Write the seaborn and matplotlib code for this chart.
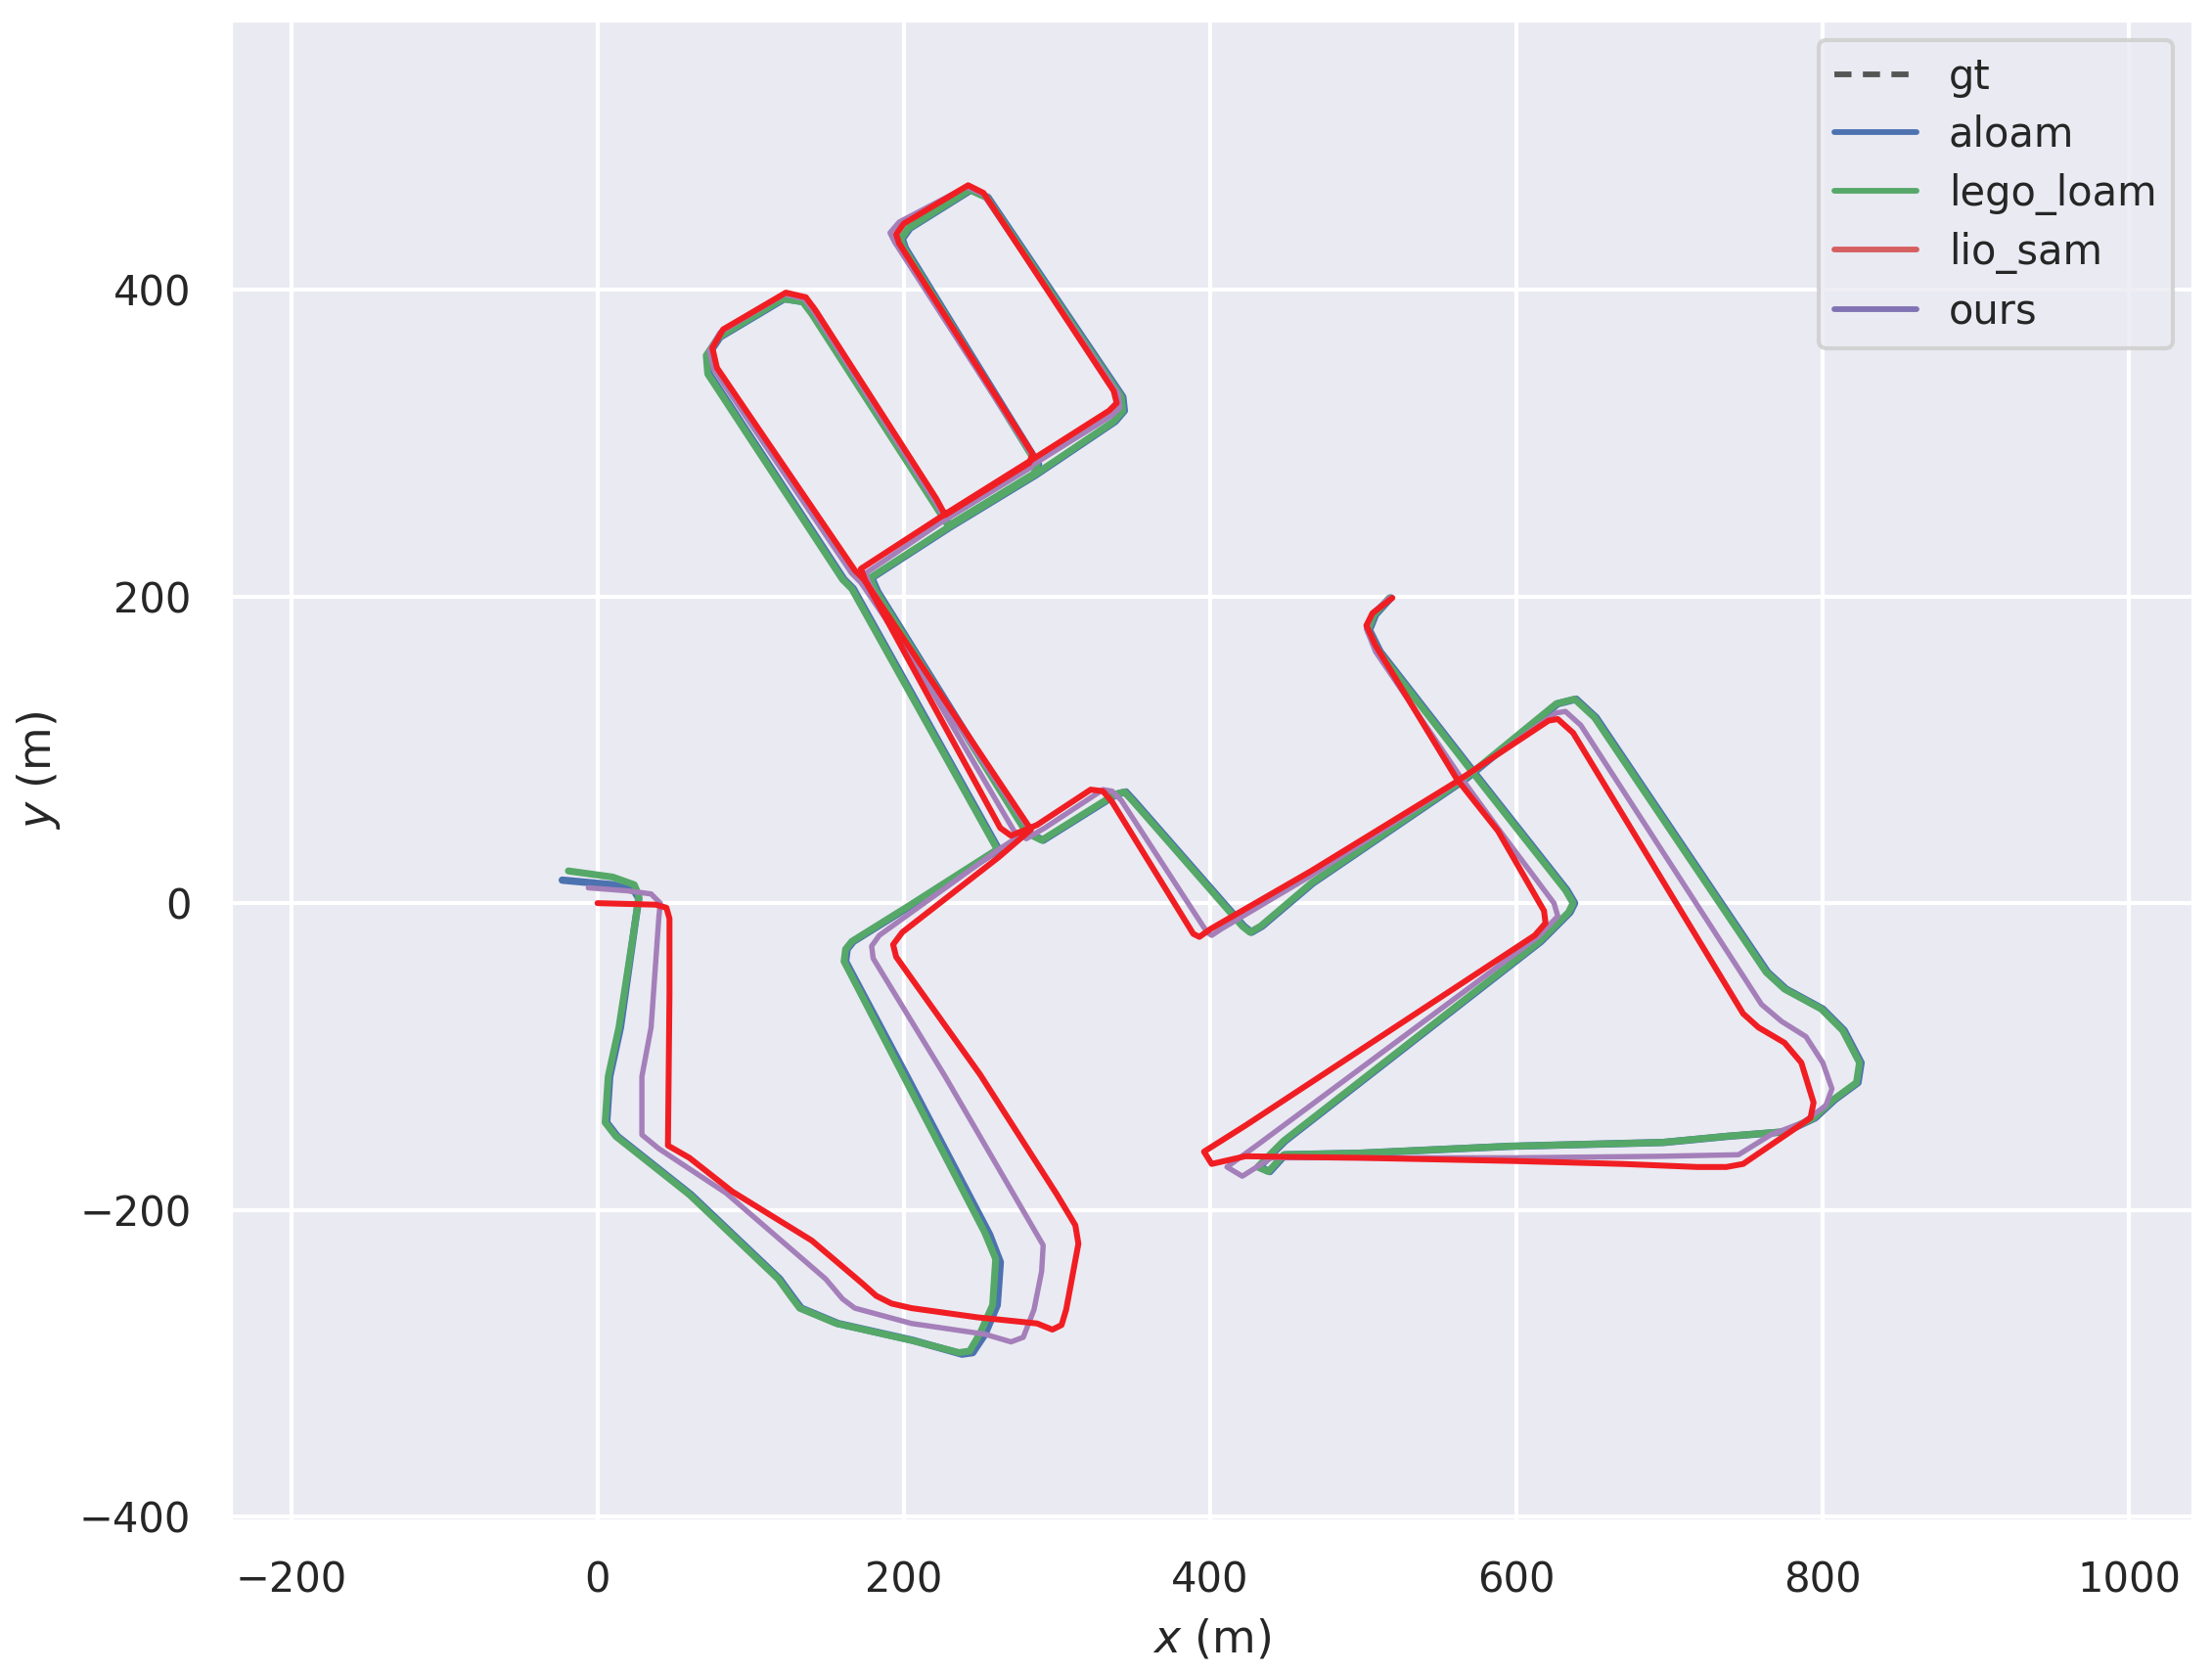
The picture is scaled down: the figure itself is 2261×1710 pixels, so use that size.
import matplotlib
matplotlib.use("Agg")
import matplotlib.pyplot as plt
import seaborn as sns
import pandas as pd
from matplotlib.lines import Line2D

# ---------------- data (metres) ----------------
methods = ["gt", "aloam", "lego_loam", "lio_sam", "ours"]

lio_sam_x = [0, 38, 45, 47, 47, 46, 60, 88, 140, 173, 182, 192, 205, 248, 287, 297, 303, 306, 314, 312, 300, 250, 195, 193, 199, 262, 283,
             174, 168, 78, 75, 82, 123, 136, 142, 221, 227, 282, 284, 197, 195, 200, 242, 252, 337, 339, 334, 282, 226, 172,
             175, 263, 270, 287, 322, 330, 336, 389, 393, 400, 466, 559, 621, 627, 637, 748, 758, 775, 786, 794, 792, 773, 748, 737,
             718, 669, 595, 497, 423, 401, 396, 423, 612, 619, 618, 588, 561, 508, 502, 506, 519]
lio_sam_y = [0, -1, -3, -10, -60, -158, -166, -188, -220, -248, -256, -261, -264, -270, -274, -278, -275, -265, -222, -210, -190, -112, -35, -27, -19, 30, 48,
             211, 217, 349, 362, 374, 398, 395, 387, 264, 253, 287, 293, 430, 436, 443, 468, 463, 334, 326, 321, 288, 253, 218,
             210, 49, 44, 51, 74, 73, 66, -20, -22, -17, 21, 78, 119, 120, 111, -72, -81, -91, -104, -130, -140, -153, -170, -172,
             -172, -170, -168, -166, -165, -170, -162, -145, -21, -13, -5, 47, 81, 168, 181, 189, 199]

gt_x = list(lio_sam_x)
gt_y = list(lio_sam_y)

lego_loam_x = [-19, 10, 24, 27, 25, 14, 7, 5, 12, 60, 118, 126, 132, 156, 205, 236, 243, 250, 258, 260, 253, 200, 161, 162, 166, 203, 261,
               166, 160, 72, 71, 79, 121, 134, 140, 222, 229, 285, 287, 200, 198, 203, 243, 254, 342, 343, 337, 285, 229, 178,
               182, 280, 290, 338, 344, 350, 421, 426, 433, 466, 566, 626, 638, 651, 763, 775, 799, 813, 824, 822, 807, 794, 775, 737,
               695, 595, 497, 448, 438, 431, 448, 615, 634, 637, 632, 570, 510, 503, 507, 517]
lego_loam_y = [21, 17, 12, 5, -10, -81, -113, -143, -152, -190, -245, -256, -264, -274, -285, -293, -292, -280, -262, -232, -215, -113, -38, -30, -25, -2, 35,
               205, 211, 345, 357, 369, 394, 392, 384, 257, 246, 280, 286, 427, 433, 440, 465, 460, 330, 321, 314, 279, 245, 212,
               203, 46, 41, 71, 72.5, 66, -15, -19, -15, 13, 81, 130, 133, 121, -45, -56, -69, -83, -104, -117, -128, -140, -149, -152,
               -156, -158.5, -163, -164, -175, -172, -155, -25, -6, 0, 8.5, 87, 164, 178, 188, 199]

aloam_x = [-23, 10, 24, 27, 25, 15, 8, 6, 13, 61, 119, 127, 133, 157, 206, 238, 245, 253, 261, 263, 256, 202, 162, 163, 167, 204, 262,
           167, 161, 73, 72, 80, 122, 135, 141, 223, 230, 286, 288, 201, 199, 204, 244, 255, 343, 344, 338, 286, 230, 179,
           183, 281, 291, 339, 345, 351, 422, 427, 434, 467, 567, 627, 639, 652, 764, 776, 800, 814, 825, 823, 808, 795, 776, 738,
           696, 596, 498, 449, 439, 432, 449, 616, 635, 638, 633, 571, 511, 504, 508, 518]
aloam_y = [15, 12, 8, 3, -10, -81, -113, -143, -152, -190, -245, -256, -264, -274, -285, -294, -293, -281, -262, -234, -216, -113, -38, -30, -25, -2, 35,
           205, 211, 345, 357, 369, 394, 392, 384, 257, 246, 280, 286, 427, 433, 440, 465, 460, 330, 321, 314, 279, 245, 212,
           203, 46, 41, 71, 72.5, 66, -15, -19, -15, 13, 81, 130, 133, 121, -45, -56, -69, -83, -104, -117, -128, -140, -149, -152,
           -156, -158.5, -163, -164, -175, -172, -155, -25, -6, 0, 8.5, 87, 164, 178, 188, 199]

ours_x = [-6, 20, 35, 41, 40, 35, 29, 29, 40, 84, 149, 160, 168, 205, 253, 270, 278, 285, 290, 291, 227, 180, 179, 184, 262, 282,
          172, 166, 76, 73, 80, 122, 135, 141, 221, 227, 283, 285, 194, 191, 197, 241, 252, 340, 341, 336, 283, 227, 175,
          178, 272, 280, 292, 330, 336, 342, 398, 401, 407, 466, 563, 626, 632, 642, 760, 773, 789, 800, 806, 802, 787, 766, 745,
          695, 600, 500, 440, 421, 411, 431, 614, 627, 624.5, 590, 563, 508, 502, 506, 517]
ours_y = [10, 8, 6, 0, -10, -81, -113, -151, -160, -189, -245, -258, -264, -274, -281, -286, -283, -265, -240, -223, -113, -36, -28, -21, 35, 48,
          209, 215, 348, 360, 372, 397, 394, 386, 261, 250, 284, 290, 431, 437, 444, 467, 462, 332, 323, 318, 285, 250, 215,
          207, 47, 42, 49, 74, 73, 67, -19, -21, -17, 18, 80, 124, 125, 116, -66, -77, -87, -104, -121, -132, -143, -151, -164,
          -165, -166, -166, -166, -178, -172, -157.5, -22, -8.5, 0, 46, 83, 164, 179, 189, 199]

x_ticks = [-200, 0, 200, 400, 600, 800, 1000]
y_ticks = [-400, -200, 0, 200, 400]

# ---------------- style ----------------
sns.set_theme(style="darkgrid", context="notebook")
plt.rcParams["font.family"] = ["DejaVu Sans"]

W, H, DPI = 2261, 1710, 300
fig = plt.figure(figsize=(W / DPI, H / DPI), dpi=DPI)
ax = fig.add_axes([235 / W, 155 / H, 2007 / W, 1535 / H])

series = {
    "gt": (gt_x, gt_y, dict(color="#555555", lw=1.0, linestyle=(0, (3, 2)))),
    "aloam": (aloam_x, aloam_y, dict(color="#4C72B0", lw=1.8)),
    "lego_loam": (lego_loam_x, lego_loam_y, dict(color="#55A868", lw=1.7)),
    "ours": (ours_x, ours_y, dict(color="#A47FB9", lw=1.3)),
    "lio_sam": (lio_sam_x, lio_sam_y, dict(color="#F01E23", lw=1.45)),
}

for name in ["gt", "aloam", "lego_loam", "ours", "lio_sam"]:
    xs, ys, kw = series[name]
    df = pd.DataFrame({"x": xs, "y": ys})
    sns.lineplot(data=df, x="x", y="y", sort=False, estimator=None, ax=ax,
                 solid_joinstyle="round", solid_capstyle="round", **kw)

ax.set_xlim(-240, 1042)
ax.set_ylim(-403, 576)
ax.set_xticks(x_ticks)
ax.set_yticks(y_ticks)
ax.tick_params(labelsize=10, colors=".15")
ax.set_xlabel("$x$ (m)", fontsize=11, color=".15")
ax.set_ylabel("$y$ (m)", fontsize=11, color=".15")

handles = [
    Line2D([], [], color="#555555", lw=1.4, linestyle=(0, (3, 2))),
    Line2D([], [], color="#4C72B0", lw=1.4),
    Line2D([], [], color="#55A868", lw=1.4),
    Line2D([], [], color="#D65F5F", lw=1.4),
    Line2D([], [], color="#8172B3", lw=1.4),
]
ax.legend(handles, ["gt", "aloam", "lego_loam", "lio_sam", "ours"],
          loc="upper right", fontsize=10, frameon=True, labelspacing=0.42)

fig.savefig("out.png", dpi=DPI)
